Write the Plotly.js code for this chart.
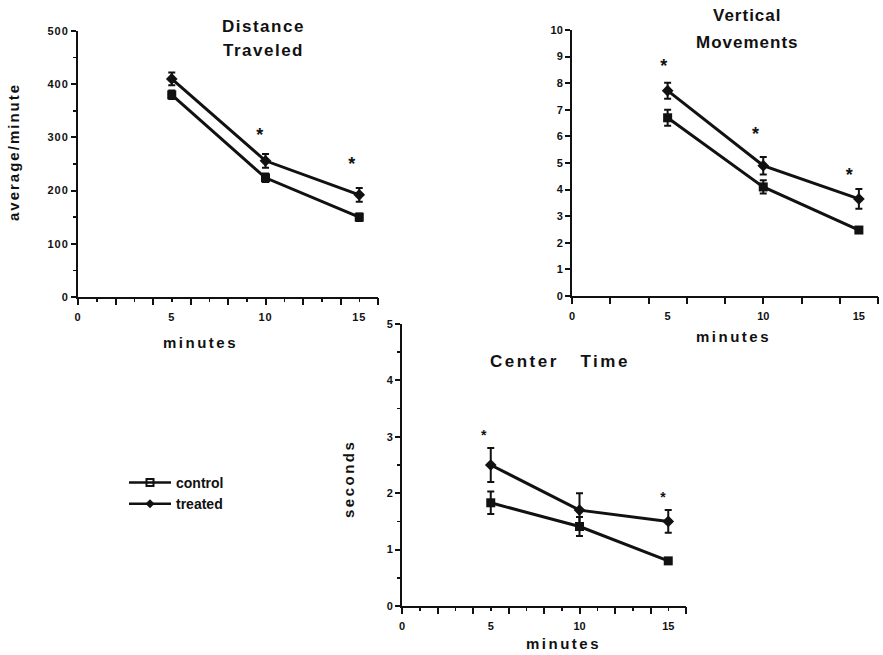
<!DOCTYPE html>
<html>
<head>
<meta charset="utf-8">
<script src="https://cdn.plot.ly/plotly-3.0.1.min.js"></script>
<style>html,body{margin:0;padding:0;background:#fff}#chart{width:883px;height:655px}
.xtick text,.ytick text{letter-spacing:1px}</style>
</head>
<body>
<div id="chart"></div>
<script>
// ---- data ----
const minutes = [5, 10, 15];

const distControl = [380, 224, 150];
const distControlErr = [8, 8, 7];
const distTreated = [410, 256, 192];
const distTreatedErr = [12, 13, 13];
const distStarX = [9.7, 14.6];
const distStarY = [302, 247];

const vertControl = [6.7, 4.1, 2.48];
const vertControlErr = [0.3, 0.25, 0.1];
const vertTreated = [7.72, 4.9, 3.65];
const vertTreatedErr = [0.3, 0.33, 0.37];
const vertStarX = [4.8, 9.6, 14.5];
const vertStarY = [8.6, 6.02, 4.5];

const centerControl = [1.83, 1.41, 0.8];
const centerControlErr = [0.2, 0.17, 0.05];
const centerTreated = [2.5, 1.7, 1.5];
const centerTreatedErr = [0.3, 0.3, 0.2];
const centerStarX = [4.6, 14.7];
const centerStarY = [3.0, 1.9];

const seriesNames = ['control', 'treated'];
const xTickVals = [0, 5, 10, 15];
const xTickText = ['0', '5', '10', '15'];

// ---- helpers ----
const W = 883, H = 655;
const px = v => v / W;
const py = v => 1 - v / H;
const INK = '#111';

function series(x, y, err, sym, xa, ya) {
  return {
    x: x, y: y, xaxis: xa, yaxis: ya, type: 'scatter', mode: 'lines+markers',
    showlegend: false,
    line: {color: INK, width: 3},
    marker: {symbol: sym, size: 9, color: INK},
    error_y: {type: 'data', array: err, visible: true, color: INK, thickness: 2, width: 3.5}
  };
}
function stars(x, y, xa, ya, size) {
  return {x: x, y: y, xaxis: xa, yaxis: ya, type: 'scatter', mode: 'text',
    text: x.map(() => '*'), textfont: {size: size, color: INK, family: 'Liberation Sans', weight: 'bold'},
    showlegend: false, hoverinfo: 'skip'};
}

const traces = [
  series(minutes, distControl, distControlErr, 'square', 'x', 'y'),
  series(minutes, distTreated, distTreatedErr, 'diamond', 'x', 'y'),
  stars(distStarX, distStarY, 'x', 'y', 18),
  series(minutes, vertControl, vertControlErr, 'square', 'x2', 'y2'),
  series(minutes, vertTreated, vertTreatedErr, 'diamond', 'x2', 'y2'),
  stars(vertStarX, vertStarY, 'x2', 'y2', 18),
  series(minutes, centerControl, centerControlErr, 'square', 'x3', 'y3'),
  series(minutes, centerTreated, centerTreatedErr, 'diamond', 'x3', 'y3'),
  stars(centerStarX, centerStarY, 'x3', 'y3', 14),
  // legend entries
  {x: [null], y: [null], type: 'scatter', mode: 'lines+markers', name: seriesNames[0],
   line: {color: INK, width: 2.5}, marker: {symbol: 'square-open', size: 7, color: INK, line: {width: 2}}},
  {x: [null], y: [null], type: 'scatter', mode: 'lines+markers', name: seriesNames[1],
   line: {color: INK, width: 2.5}, marker: {symbol: 'diamond', size: 7, color: INK}}
];

const tickFont = {family: 'Liberation Sans', size: 11, color: INK, weight: 'bold'};
// label axis: labels only (tick marks invisible)
function xAxis(l, r, anchor) {
  return {domain: [px(l), px(r)], anchor: anchor, range: [0, 16], tickvals: xTickVals, ticktext: xTickText,
    ticks: 'outside', ticklen: 9, tickwidth: 1, tickcolor: 'rgba(0,0,0,0)',
    showline: true, linewidth: 2, linecolor: INK, showgrid: false, zeroline: false,
    tickfont: tickFont, fixedrange: true};
}
// tick-mark axis overlaying the label axis
function xTickAxis(over, anchor, withMinor) {
  const a = {overlaying: over, anchor: anchor, side: 'bottom', range: [0, 16], dtick: 2, tick0: 0,
    showticklabels: false, ticks: 'outside', ticklen: 7, tickwidth: 2, tickcolor: INK,
    showline: false, showgrid: false, zeroline: false, fixedrange: true};
  if (withMinor) a.minor = {dtick: 1, tick0: 0, ticks: 'outside', ticklen: 4, tickwidth: 1.5, tickcolor: INK};
  return a;
}
function yAxis(b, t, anchor, range, dtick, minor) {
  const a = {domain: [py(b), py(t)], anchor: anchor, range: range, dtick: dtick, tick0: 0,
    ticks: 'outside', ticklen: 5, tickwidth: 2, tickcolor: INK,
    showline: true, linewidth: 2, linecolor: INK, showgrid: false, zeroline: false,
    tickfont: tickFont, fixedrange: true};
  if (minor) a.minor = {dtick: minor, ticks: 'outside', ticklen: 3, tickwidth: 1.5, tickcolor: INK};
  return a;
}

const titleFont = {family: 'Liberation Sans', size: 17, color: INK, weight: 'bold'};
const labFont = {family: 'Liberation Sans', size: 15, color: INK, weight: 'bold'};
function sp(text, s) { return '<span style="letter-spacing:' + s + 'px">' + text + '</span>'; }
function ann(text, x, y, font, extra) {
  return Object.assign({text: text, x: px(x), y: py(y), xref: 'paper', yref: 'paper',
    showarrow: false, font: font, xanchor: 'center', yanchor: 'middle'}, extra || {});
}

const layout = {
  width: W, height: H, margin: {l: 0, r: 0, t: 0, b: 0},
  paper_bgcolor: '#fff', plot_bgcolor: 'rgba(0,0,0,0)',
  xaxis: xAxis(78, 378, 'y'),
  yaxis: yAxis(297, 31, 'x', [0, 500], 100, 50),
  xaxis2: xAxis(572, 878, 'y2'),
  yaxis2: yAxis(296, 30, 'x2', [0, 10], 1, null),
  xaxis3: xAxis(402, 686, 'y3'),
  yaxis3: yAxis(606, 324, 'x3', [0, 5], 1, 0.5),
  xaxis4: xTickAxis('x', 'y', true),
  xaxis5: xTickAxis('x2', 'y2', false),
  xaxis6: xTickAxis('x3', 'y3', true),
  showlegend: true,
  legend: {x: px(124), y: py(467), xanchor: 'left', yanchor: 'top', bgcolor: 'rgba(0,0,0,0)',
    font: {family: 'Liberation Sans', size: 14, color: INK, weight: 'bold'}, tracegroupgap: 0, itemwidth: 42},
  annotations: [
    ann(sp('Distance', 1.5), 263, 26, titleFont),
    ann(sp('Traveled', 1.5), 263, 51, titleFont),
    ann(sp('Vertical', 1), 747, 16, titleFont),
    ann(sp('Movements', 1), 747, 42, titleFont),
    ann(sp('Center   Time', 2.5), 560, 361, titleFont),
    ann(sp('average/minute', 2), 14, 152, labFont, {textangle: -90}),
    ann(sp('minutes', 2.5), 200, 342, labFont),
    ann(sp('minutes', 2.5), 733, 336, labFont),
    ann(sp('seconds', 2.5), 348, 479, labFont, {textangle: -90}),
    ann(sp('minutes', 2.5), 563, 643, labFont)
  ]
};

// dummy traces so the tick-mark axes exist
[['x4', 'y'], ['x5', 'y2'], ['x6', 'y3']].forEach(p => traces.push({x: [null], y: [null], xaxis: p[0], yaxis: p[1],
  type: 'scatter', mode: 'markers', showlegend: false, hoverinfo: 'skip'}));

Plotly.newPlot('chart', traces, layout, {displayModeBar: false, staticPlot: true});
</script>
</body>
</html>
